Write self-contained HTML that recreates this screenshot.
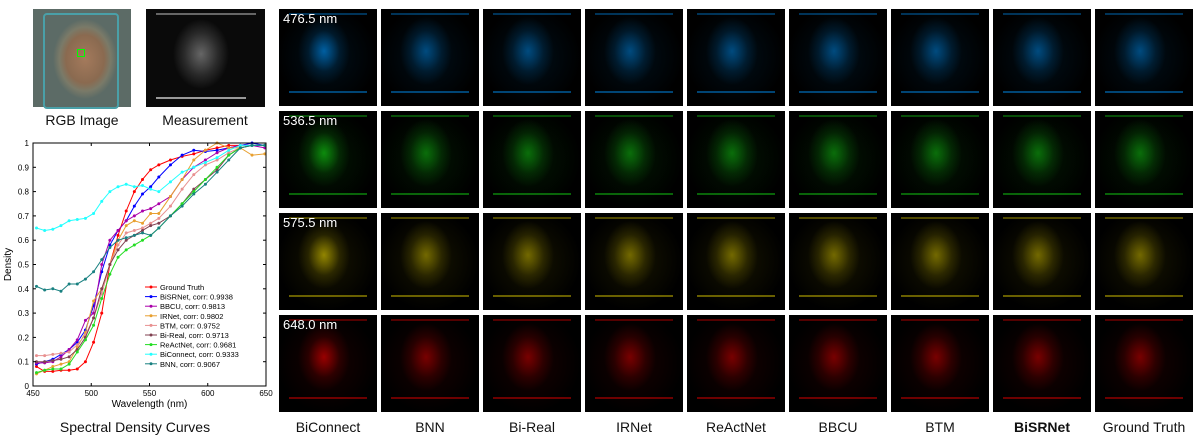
<!DOCTYPE html>
<html><head><meta charset="utf-8">
<style>
body{margin:0;width:1202px;height:440px;background:#fff;position:relative;overflow:hidden;font-family:"Liberation Sans",sans-serif}
.tile{position:absolute;width:98px;height:97px;background:#000;overflow:hidden}
.lbl{position:absolute;font-size:14px;color:#111;text-align:center;width:110px}
.nm{position:absolute;left:4px;top:2px;color:#fff;font-size:13px}
</style></head><body>
<div style="position:absolute;left:33px;top:9px;width:98px;height:98px;background:radial-gradient(ellipse 32px 40px at 52px 50px,#a47a5c 0%,#8a6a50 60%,#7a7a68 80%,#5c6b66 100%),#2a2630;">
 <div style="position:absolute;left:10px;top:4px;width:72px;height:92px;border:2px solid #4aa0a8;border-radius:4px;"></div>
 <div style="position:absolute;left:44px;top:40px;width:6px;height:6px;border:1.5px solid #0f0"></div>
</div>
<div style="position:absolute;left:146px;top:9px;width:119px;height:98px;background:radial-gradient(ellipse 28px 35px at 55px 45px,#666 0%,#2a2a2a 60%,#0a0a0a 100%),#000;">
 <div style="position:absolute;left:10px;top:88px;width:90px;height:2px;background:#999"></div>
 <div style="position:absolute;left:10px;top:4px;width:100px;height:2px;background:#666"></div>
</div>
<div class="lbl" style="left:27px;top:112px">RGB Image</div>
<div class="lbl" style="left:150px;top:112px">Measurement</div>
<div class="lbl" style="left:20px;top:419px;width:230px">Spectral Density Curves</div>
<div id="grid"></div>
<svg id="chart" width="280" height="420" style="position:absolute;left:0;top:0" font-family="Liberation Sans, sans-serif"></svg>
<script>
const wl=[453,460,467,474,481,488,495,502,509,516,523,530,537,544,551,558,568,578,588,598,608,618,628,638,649];
const xTicks=[450,500,550,600,650];
const yTicks=[0,0.1,0.2,0.3,0.4,0.5,0.6,0.7,0.8,0.9,1];
const names=["Ground Truth","BiSRNet, corr: 0.9938","BBCU, corr: 0.9813","IRNet, corr: 0.9802","BTM, corr: 0.9752","Bi-Real, corr: 0.9713","ReActNet, corr: 0.9681","BiConnect, corr: 0.9333","BNN, corr: 0.9067"];
const colors=["#f00","#00f","#a0a","#e8a030","#e89090","#804050","#2d2","#2ff","#188080"];
const gt=[.08,.06,.06,.065,.065,.07,.1,.18,.3,.5,.62,.72,.8,.85,.89,.91,.93,.945,.955,.97,.98,.99,.99,.99,.99];
const bisr=[.09,.1,.11,.13,.15,.18,.23,.33,.47,.58,.64,.68,.74,.79,.82,.86,.91,.95,.97,.965,.97,.98,.99,1.0,.99];
const bbcu=[.095,.095,.1,.12,.15,.19,.27,.3,.5,.6,.64,.68,.7,.72,.73,.75,.78,.85,.9,.93,.96,.98,.99,.99,.98];
const irnet=[.05,.065,.08,.09,.1,.16,.22,.35,.4,.5,.6,.66,.68,.67,.71,.71,.78,.85,.93,.97,1.0,.98,.98,.95,.955];
const btm=[.125,.125,.13,.135,.14,.17,.21,.28,.38,.5,.58,.63,.64,.65,.67,.69,.74,.81,.87,.91,.93,.96,.98,.99,.99];
const bireal=[.1,.1,.105,.11,.12,.15,.2,.28,.4,.5,.56,.6,.62,.64,.66,.67,.7,.75,.81,.85,.89,.95,.98,.99,.99];
const react=[.055,.065,.07,.07,.09,.14,.19,.25,.36,.46,.53,.56,.58,.6,.62,.65,.7,.75,.8,.85,.9,.95,.98,.99,.99];
const biconn=[.65,.64,.645,.66,.68,.685,.69,.71,.76,.8,.82,.83,.82,.825,.81,.8,.84,.88,.9,.92,.94,.97,.99,.99,.99];
const bnn=[.41,.395,.4,.39,.42,.42,.44,.47,.52,.57,.6,.61,.62,.63,.62,.65,.7,.74,.79,.83,.88,.93,.98,.99,.99];
const series=[gt,bisr,bbcu,irnet,btm,bireal,react,biconn,bnn];
const X0=33,X1=266,Y0=386,Y1=143;
const sx=v=>X0+(v-450)/200*(X1-X0), sy=v=>Y0-v*(Y0-Y1);
const svg=document.getElementById('chart');const NS='http://www.w3.org/2000/svg';
function mk(t,a,p){const e=document.createElementNS(NS,t);for(const k in a)e.setAttribute(k,a[k]);(p||svg).appendChild(e);return e;}
series.forEach((s,i)=>{
 const g=mk('g',{});
 
 
 mk('polyline',{points:s.map((v,j)=>sx(wl[j])+','+sy(v)).join(' '),fill:'none',stroke:colors[i],'stroke-width':1},g);
 s.forEach((v,j)=>mk('circle',{cx:sx(wl[j]),cy:sy(v),r:1.5,fill:colors[i]},g));
});
const ax=mk('rect',{x:X0,y:Y1,width:X1-X0,height:Y0-Y1,fill:'none',stroke:'#000','stroke-width':1});

xTicks.forEach(t=>{mk('line',{x1:sx(t),x2:sx(t),y1:Y0,y2:Y0-3,stroke:'#000'});mk('line',{x1:sx(t),x2:sx(t),y1:Y1,y2:Y1+3,stroke:'#000'});
 const e=mk('text',{x:sx(t),y:Y0+10,'font-size':8,'text-anchor':'middle'});e.textContent=t;
 });
yTicks.forEach(t=>{mk('line',{x1:X0,x2:X0+3,y1:sy(t),y2:sy(t),stroke:'#000'});mk('line',{x1:X1,x2:X1-3,y1:sy(t),y2:sy(t),stroke:'#000'});
 const e=mk('text',{x:X0-4,y:sy(t)+3,'font-size':8,'text-anchor':'end'});e.textContent=t;
 });
let xt=mk('text',{x:(X0+X1)/2,y:Y0+21,'font-size':10,'text-anchor':'middle'});xt.textContent='Wavelength (nm)';

let yt=mk('text',{x:11,y:(Y0+Y1)/2,'font-size':10,'text-anchor':'middle',transform:'rotate(-90 11 '+(Y0+Y1)/2+')'});yt.textContent='Density';

names.forEach((n,i)=>{const y=287+i*9.6;const g=mk('g',{});
 
 mk('line',{x1:145,x2:157,y1:y,y2:y,stroke:colors[i]},g);mk('circle',{cx:151,cy:y,r:1.5,fill:colors[i]},g);
 const e=mk('text',{x:160,y:y+3,'font-size':7.5},g);e.textContent=n;});
const cols=["BiConnect","BNN","Bi-Real","IRNet","ReActNet","BBCU","BTM","BiSRNet","Ground Truth"];
const rows=[["476.5 nm","0,150,255"],["536.5 nm","20,220,20"],["575.5 nm","230,210,0"],["648.0 nm","240,0,0"]];
const grid=document.getElementById('grid');
rows.forEach((r,ri)=>cols.forEach((c,ci)=>{
 const d=document.createElement('div');d.className='tile';
 
 
 const x=279+ci*102,y=9+ri*102;d.style.left=x+'px';d.style.top=y+'px';
 const a=ci==0?0.6:0.45;
 d.style.background=`linear-gradient(rgba(${r[1]},0.45),rgba(${r[1]},0.45)) 10px 82px/78px 2px no-repeat,linear-gradient(rgba(${r[1]},0.35),rgba(${r[1]},0.35)) 10px 4px/78px 2px no-repeat,radial-gradient(ellipse 26px 34px at 45px 42px,rgba(${r[1]},${a}) 0%,rgba(${r[1]},0.12) 60%,rgba(${r[1]},0) 100%),radial-gradient(ellipse 50px 50px at 48px 48px,rgba(${r[1]},0.1),rgba(0,0,0,1)),#000`;
 if(ci==0){const t=document.createElement('div');t.className='nm';t.textContent=r[0];
  d.appendChild(t);}
 grid.appendChild(d);
}));
cols.forEach((c,ci)=>{const l=document.createElement('div');l.className='lbl';l.textContent=c;
 
 l.style.left=(279+ci*102+49-55)+'px';l.style.top='419px';if(c=='BiSRNet')l.style.fontWeight='bold';grid.appendChild(l);});
</script>
</body></html>
